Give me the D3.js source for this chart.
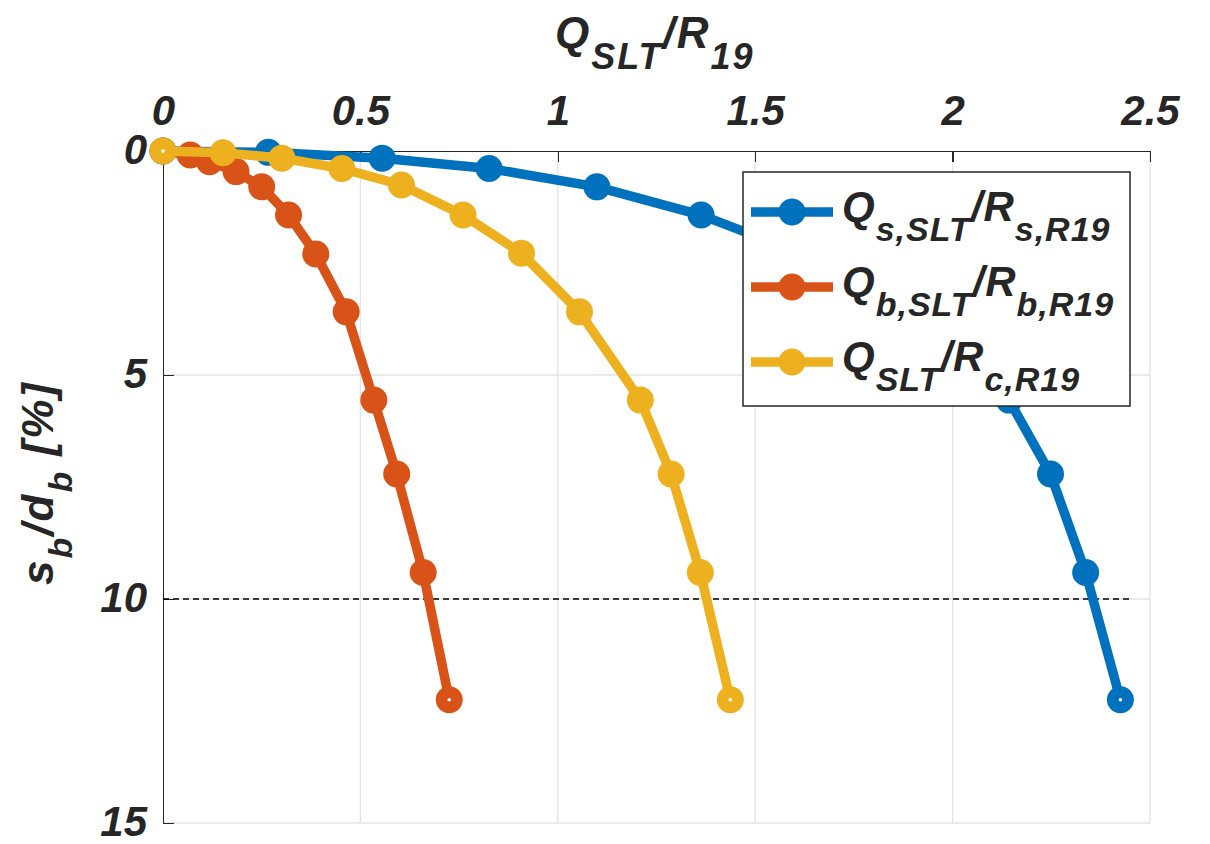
<!DOCTYPE html>
<html><head><meta charset="utf-8">
<script src="https://cdn.jsdelivr.net/npm/d3@7"></script>
<style>
html,body{margin:0;padding:0;background:#fff;}
svg text{font-family:"Liberation Sans",Arial,sans-serif;font-weight:bold;font-style:italic;fill:#262626;}
</style></head>
<body><svg id="c" width="1210" height="844"></svg>
<script>
// ---- data ----
const xTicks = [0, 0.5, 1, 1.5, 2, 2.5];
const yTicks = [0, 5, 10, 15];
const xTickLabels = ["0", "0.5", "1", "1.5", "2", "2.5"];
const yTickLabels = ["0", "5", "10", "15"];

const blueX   = [0, 0.267, 0.555, 0.826, 1.099, 1.363, 1.62, 1.88, 2.143, 2.248, 2.337, 2.425];
const blueY   = [0, 0.03, 0.16, 0.39, 0.80, 1.43, 2.30, 3.59, 5.56, 7.21, 9.41, 12.25];
const orangeX = [0, 0.069, 0.118, 0.185, 0.250, 0.318, 0.387, 0.464, 0.534, 0.592, 0.659, 0.725];
const orangeY = [0, 0.09, 0.24, 0.46, 0.80, 1.43, 2.30, 3.59, 5.56, 7.21, 9.41, 12.25];
const yellowX = [0, 0.152, 0.301, 0.453, 0.604, 0.760, 0.908, 1.055, 1.209, 1.287, 1.361, 1.437];
const yellowY = [0, 0.04, 0.16, 0.39, 0.76, 1.43, 2.28, 3.59, 5.56, 7.21, 9.41, 12.25];
const thresholdY = 10;
const thresholdX = [0, 2.45];

const colors = ["#0072BD", "#D95319", "#EDB120"];

const svg = d3.select("#c");
const L = 163, R = 1150, T = 151, B = 823;
const x = d3.scaleLinear().domain([0, 2.5]).range([L, R]);
const y = d3.scaleLinear().domain([0, 15]).range([T, B]);

// grid
const grid = svg.append("g");
grid.selectAll("line.gx").data(xTicks.slice(1)).enter().append("line")
  .attr("x1", d => x(d)).attr("x2", d => x(d)).attr("y1", T).attr("y2", B)
  .attr("stroke", "#e3e3e3").attr("stroke-width", 1.3);
grid.selectAll("line.gy").data(yTicks.slice(1)).enter().append("line")
  .attr("x1", L).attr("x2", R).attr("y1", d => y(d)).attr("y2", d => y(d))
  .attr("stroke", "#e3e3e3").attr("stroke-width", 1.3);

// axes (top & left), ticks inward
const xAxis = d3.axisTop(x).tickValues(xTicks).tickFormat((d, i) => xTickLabels[i]).tickSizeInner(-11).tickSizeOuter(0).tickPadding(25);
const gx = svg.append("g").attr("transform", `translate(0,${T})`).call(xAxis);
gx.select(".domain").attr("stroke", "#262626").attr("stroke-width", 1.5);
gx.selectAll(".tick line").attr("stroke", "#262626").attr("stroke-width", 1.5);
gx.selectAll(".tick text").attr("font-size", 42).attr("fill", "#262626")
  .attr("font-family", null).attr("dy", 0).attr("y", -26);

const yAxis = d3.axisLeft(y).tickValues(yTicks).tickFormat((d, i) => yTickLabels[i]).tickSizeInner(-11).tickSizeOuter(0).tickPadding(16);
const gy = svg.append("g").attr("transform", `translate(${L},0)`).call(yAxis);
gy.select(".domain").attr("stroke", "#262626").attr("stroke-width", 1.5);
gy.selectAll(".tick line").attr("stroke", "#262626").attr("stroke-width", 1.5);
gy.selectAll(".tick text").attr("font-size", 42).attr("fill", "#262626")
  .attr("font-family", null).attr("dy", "0.3em").attr("x", -16);
svg.selectAll(".domain, .tick line").attr("shape-rendering", "crispEdges");

// dashed threshold
svg.append("line").attr("x1", x(thresholdX[0])).attr("x2", x(thresholdX[1]))
  .attr("y1", y(thresholdY)).attr("y2", y(thresholdY))
  .attr("stroke", "#000").attr("stroke-width", 1.4).attr("stroke-dasharray", "6,4");

// series
const series = [
  {xs: blueX, ys: blueY, c: colors[0]},
  {xs: orangeX, ys: orangeY, c: colors[1]},
  {xs: yellowX, ys: yellowY, c: colors[2]}
];
const line = d3.line().x(d => x(d[0])).y(d => y(d[1]));
series.forEach(s => {
  const pts = s.xs.map((v, i) => [v, s.ys[i]]);
  const g = svg.append("g");
  g.append("path").datum(pts).attr("d", line).attr("fill", "none")
    .attr("stroke", s.c).attr("stroke-width", 9.5).attr("stroke-linejoin", "round");
  g.selectAll("circle.m").data(pts).enter().append("circle")
    .attr("cx", d => x(d[0])).attr("cy", d => y(d[1])).attr("r", 13.5).attr("fill", s.c);
  [pts[0], pts[pts.length - 1]].forEach(p => {
    g.append("circle").attr("cx", x(p[0])).attr("cy", y(p[1])).attr("r", 1.8).attr("fill", "#fff");
  });
});

// axis titles
const xt = svg.append("text").attr("x", 555).attr("y", 48).attr("font-size", 44).attr("letter-spacing", 2);
xt.append("tspan").text("Q");
xt.append("tspan").attr("dy", 21).attr("font-size", 36).text("SLT");
xt.append("tspan").attr("dy", -21).text("/R");
xt.append("tspan").attr("dy", 21).attr("font-size", 36).text("19");

const yt = svg.append("text").attr("transform", "translate(53,483) rotate(-90)")
  .attr("text-anchor", "middle").attr("font-size", 44).attr("letter-spacing", 2);
yt.append("tspan").text("s");
yt.append("tspan").attr("dy", 19).attr("font-size", 34).text("b");
yt.append("tspan").attr("dy", -19).text("/d");
yt.append("tspan").attr("dy", 19).attr("font-size", 34).text("b");
yt.append("tspan").attr("dy", -19).text(" [%]");

// legend
const lg = svg.append("g");
lg.append("rect").attr("x", 743).attr("y", 172).attr("width", 387).attr("height", 234)
  .attr("fill", "#fff").attr("stroke", "#262626").attr("stroke-width", 1.5);
const legendSubs = [["s,SLT", "s,R19"], ["b,SLT", "b,R19"], ["SLT", "c,R19"]];
const rowsY = [212, 287, 362];
legendSubs.forEach((sub, i) => {
  const ry = rowsY[i];
  lg.append("line").attr("x1", 751).attr("x2", 833).attr("y1", ry).attr("y2", ry)
    .attr("stroke", colors[i]).attr("stroke-width", 9.5);
  lg.append("circle").attr("cx", 792).attr("cy", ry).attr("r", 13.5).attr("fill", colors[i]);
  const t = lg.append("text").attr("x", 842).attr("y", ry + 9).attr("font-size", 42).attr("letter-spacing", 1);
  t.append("tspan").text("Q");
  t.append("tspan").attr("dy", 20).attr("font-size", 34).text(sub[0]);
  t.append("tspan").attr("dy", -20).text("/R");
  t.append("tspan").attr("dy", 20).attr("font-size", 34).text(sub[1]);
});
</script></body></html>
